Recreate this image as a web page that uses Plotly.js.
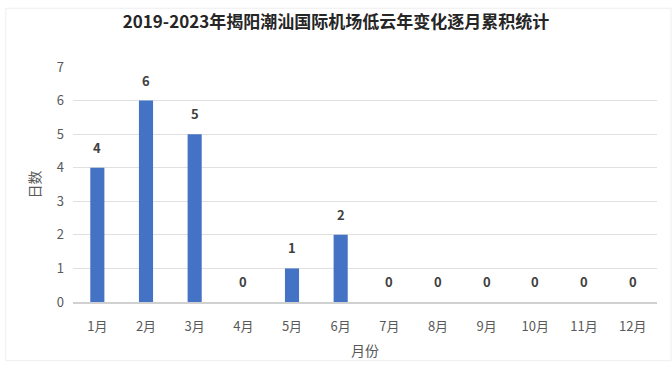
<!DOCTYPE html>
<html><head><meta charset="utf-8">
<script src="https://cdn.plot.ly/plotly-3.0.1.min.js"></script>
<style>html,body{margin:0;padding:0;background:#fff;}#chart{width:672px;height:372px;}</style>
</head><body><div id="chart"></div>
<script>
var months = ['1月','2月','3月','4月','5月','6月','7月','8月','9月','10月','11月','12月'];
var days = [4, 6, 5, 0, 1, 2, 0, 0, 0, 0, 0, 0];
var titleText = '2019-2023年揭阳潮汕国际机场低云年变化逐月累积统计';
var yTitle = '日数';
var xTitle = '月份';
var yTicks = [0,1,2,3,4,5,6,7];

var font = '"Noto Sans CJK SC", "Noto Sans", sans-serif';
var labels = months.map(function(m, i) {
  return {x: m, y: days[i], xref: 'x', yref: 'y', text: '<b>' + days[i] + '</b>',
          showarrow: false, yanchor: 'bottom', yshift: 9,
          font: {family: font, size: 13, color: '#404040'}};
});
Plotly.newPlot('chart', [{
  type: 'bar',
  x: months,
  y: days,
  marker: {color: '#4472C4'},
  hoverinfo: 'none'
}], {
  width: 672, height: 372,
  margin: {l: 73, r: 15, t: 67, b: 70},
  paper_bgcolor: '#fff', plot_bgcolor: '#fff',
  bargap: 0.71,
  showlegend: false,
  annotations: labels,
  title: {text: '<b>' + titleText + '</b>', x: 0.5, xanchor: 'center', y: 0.94, yanchor: 'middle',
          font: {family: font, size: 17, color: '#262626'}},
  xaxis: {
    type: 'category', tickfont: {family: font, size: 13, color: '#595959'},
    showline: true, linecolor: '#d0d0d0', linewidth: 1.5, ticks: '', showgrid: false,
    ticklabelstandoff: 12,
    title: {text: xTitle, font: {family: font, size: 14, color: '#595959'}, standoff: 12}
  },
  yaxis: {
    range: [0, 7], tickvals: yTicks, tickfont: {family: font, size: 13, color: '#595959'},
    showgrid: true, gridcolor: '#e0e0e0', gridwidth: 1, zeroline: false, showline: false, ticks: '',
    ticklabelstandoff: 8,
    title: {text: yTitle, font: {family: font, size: 14, color: '#595959'}, standoff: 12}
  },
  shapes: [{type: 'rect', xref: 'paper', yref: 'paper', x0: -0.115, x1: 1.024, y0: -0.25, y1: 1.25,
            line: {color: '#eeeeee', width: 1}, fillcolor: 'rgba(0,0,0,0)'}]
}, {staticPlot: true});
</script></body></html>
